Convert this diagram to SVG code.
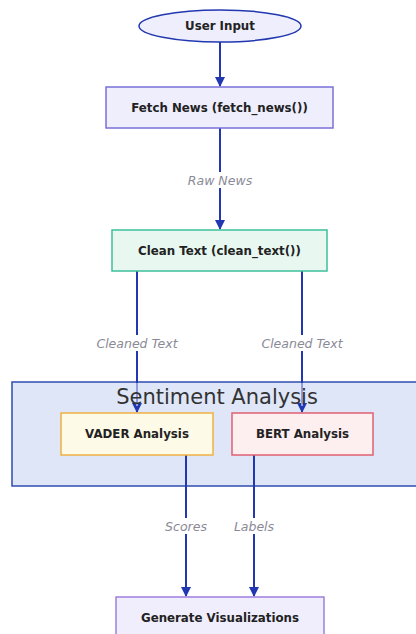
<svg xmlns="http://www.w3.org/2000/svg" width="416" height="634" viewBox="0 0 416 634">
<style>
.lbl{font-family:"DejaVu Sans",sans-serif;font-size:11.8px;font-weight:bold;fill:#222;text-anchor:middle;dominant-baseline:central}
.edge{stroke:#2238b0;stroke-width:2;fill:none}
.fade{stroke:#8d9ddf;stroke-width:2;fill:none}
.el{font-family:"DejaVu Sans",sans-serif;font-size:12.5px;font-style:italic;fill:#8a8a96;text-anchor:middle;dominant-baseline:central}
.elbg{fill:#ffffff}
</style>
<defs>
<marker id="ah" viewBox="0 0 10 10" refX="9" refY="5" markerWidth="5" markerHeight="5" orient="auto" markerUnits="strokeWidth">
<path d="M0,0 L10,5 L0,10 z" fill="#2238b0"/>
</marker>
</defs>
<rect width="416" height="634" fill="#ffffff"/>
<g id="cluster-sentiment">
<rect x="12" y="382" width="410" height="104" fill="#dfe6f8" stroke="#2f4cb0" stroke-width="1.5"/>
</g>
<g id="connectors">
<line class="edge" x1="220" y1="42" x2="220" y2="86" marker-end="url(#ah)"/>
<line class="edge" x1="220" y1="128" x2="220" y2="229" marker-end="url(#ah)"/>
<rect class="elbg" x="180" y="172" width="80" height="16"/>
<text class="el" x="220" y="180">Raw News</text>
<line class="edge" x1="137" y1="271" x2="137" y2="412" marker-end="url(#ah)"/>
<line class="fade" x1="137" y1="383" x2="137" y2="406"/>
<rect class="elbg" x="91" y="335" width="92" height="16"/>
<text class="el" x="137" y="343">Cleaned Text</text>
<line class="edge" x1="302" y1="271" x2="302" y2="412" marker-end="url(#ah)"/>
<line class="fade" x1="302" y1="383" x2="302" y2="406"/>
<rect class="elbg" x="256" y="335" width="92" height="16"/>
<text class="el" x="302" y="343">Cleaned Text</text>
<line class="edge" x1="186" y1="455" x2="186" y2="596" marker-end="url(#ah)"/>
<rect class="elbg" x="158" y="518" width="56" height="16"/>
<text class="el" x="186" y="526">Scores</text>
<line class="edge" x1="254" y1="455" x2="254" y2="596" marker-end="url(#ah)"/>
<rect class="elbg" x="228" y="518" width="52" height="16"/>
<text class="el" x="254" y="526">Labels</text>
</g>
<text x="217" y="397" font-family="DejaVu Sans,sans-serif" font-size="21" fill="#333" text-anchor="middle" dominant-baseline="central">Sentiment Analysis</text>
<g id="user-input">
<ellipse cx="220" cy="26" rx="81" ry="16" fill="#eeeefc" stroke="#2238b0" stroke-width="1.5"/>
<text class="lbl" x="220" y="26">User Input</text>
</g>
<g id="fetch-news">
<rect x="106" y="87" width="227" height="41" fill="#eeeefc" stroke="#7a70d8" stroke-width="1.5"/>
<text class="lbl" x="219.5" y="108">Fetch News (fetch_news())</text>
</g>
<g id="clean-text">
<rect x="112" y="230" width="215" height="41" fill="#e8f8f0" stroke="#3cc09a" stroke-width="1.5"/>
<text class="lbl" x="219.5" y="251">Clean Text (clean_text())</text>
</g>
<g id="vader">
<rect x="61" y="413" width="152" height="42" fill="#fefae8" stroke="#f0b040" stroke-width="1.5"/>
<text class="lbl" x="137" y="434">VADER Analysis</text>
</g>
<g id="bert">
<rect x="232" y="413" width="141" height="42" fill="#fdeef0" stroke="#e06070" stroke-width="1.5"/>
<text class="lbl" x="302.5" y="434">BERT Analysis</text>
</g>
<g id="generate-viz">
<rect x="116" y="597" width="208" height="42" fill="#f0eefc" stroke="#a07ee0" stroke-width="1.5"/>
<text class="lbl" x="220" y="618">Generate Visualizations</text>
</g>
</svg>
